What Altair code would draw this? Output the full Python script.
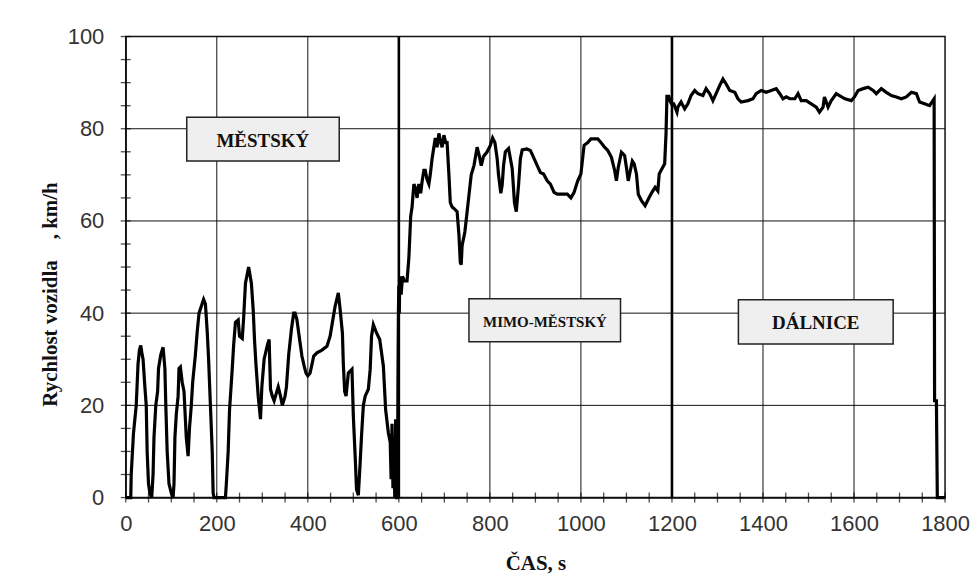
import altair as alt
import pandas as pd

# ---- speed trace (time in s, speed in km/h) ----
time_s = [
    0, 11, 12, 17, 23, 27, 30, 33, 36, 38, 42, 45, 47, 50, 53, 57,
    60, 62, 66, 70, 72, 77, 82, 86, 88, 91, 95, 100, 104,
    106, 108, 111, 113, 115, 117, 120, 124, 128, 130, 133, 137, 140, 144, 147, 153,
    157, 161, 166, 171, 175, 179, 182, 186, 190, 192, 194, 219,
    221, 225, 228, 234, 237, 241, 247, 250, 256, 259, 263, 270, 276, 280, 283, 286,
    291, 296, 299, 304, 311, 315, 318, 322, 326, 335, 340, 344, 350, 353, 358, 364,
    369, 372, 376, 380, 387, 392, 396, 400, 405, 413, 420, 431, 442, 449, 454, 460,
    467, 471, 476, 478, 481, 484, 489, 497, 500, 504, 507, 511, 515, 518, 522, 526,
    533, 537, 540, 544, 551, 558, 566, 571, 577, 581, 583, 585, 587, 589, 591, 593,
    595, 597,
    598, 599, 600, 601, 602, 605, 608, 612, 618, 622, 626, 629, 633, 637, 640, 644,
    648, 651, 655, 658, 662, 666, 669, 673, 680, 684, 688, 692, 695, 699, 703, 706,
    710, 713, 717, 721, 728, 732, 735, 737, 739, 745, 750, 754, 759, 765, 772, 777,
    781, 786, 794, 801, 806, 811, 816, 819, 824, 827, 830, 834, 841, 849, 854, 858,
    863, 867, 871, 881, 889, 896, 904, 911, 918, 926, 933, 941, 948, 960, 970, 978,
    985, 993, 1000, 1004, 1007, 1015, 1022, 1037, 1044, 1052, 1059, 1067, 1074, 1078,
    1082, 1089, 1096, 1100, 1104, 1107, 1113, 1117, 1122, 1126, 1133, 1141, 1148,
    1156, 1163, 1169, 1172, 1178, 1184, 1187, 1189, 1193, 1196, 1199,
    1204, 1211, 1213, 1220, 1228, 1235, 1242, 1250, 1257, 1268, 1275, 1283, 1290,
    1297, 1305, 1312, 1319, 1327, 1338, 1345, 1352, 1367, 1378, 1385, 1396, 1407,
    1418, 1429, 1437, 1444, 1451, 1459, 1470, 1477, 1484, 1495, 1506, 1517, 1524,
    1532, 1535, 1543, 1550, 1561, 1568, 1580, 1594, 1601, 1609, 1620, 1631, 1642,
    1649, 1660, 1671, 1682, 1693, 1704, 1715, 1726, 1737, 1744, 1755, 1766, 1776,
    1777, 1781, 1783, 1800,
]
speed_kmh = [
    0, 0, 5, 14, 20, 29, 32, 33, 31, 30, 24, 20, 10, 3, 1, 0,
    5, 13, 20, 23, 28, 31, 32.6, 28, 20, 10, 3, 1, 0,
    3, 13, 18, 20, 22, 28, 28.3, 25, 23, 19, 13, 9, 15, 20, 25, 31,
    36, 40, 41.5, 43, 42, 36, 30, 20, 10, 1, 0, 0,
    3, 10, 19, 28, 33, 38, 38.5, 35, 34.5, 39, 46.5, 50, 46.5, 40.7, 34, 29,
    22, 17, 24, 30, 33, 34.3, 23.5, 22, 21, 24, 22, 20, 22, 24, 31, 36.5,
    40, 40, 38.6, 35.7, 30.7, 28.5, 27, 26.4, 27, 30.7, 31.4, 32, 32.8, 35, 38, 41.5,
    44.4, 40.8, 35.7, 29, 23, 22, 27, 27.8, 17.7, 9, 1.8, 0.5, 7.6, 13.4, 20, 22,
    23.5, 27.8, 35, 37.5, 35.7, 34.3, 28.5, 19, 14, 12, 4, 16, 2, 10, 0, 17,
    0, 0,
    25, 40, 46, 40, 48, 44, 48, 47, 47, 52, 61, 63, 68, 67, 65, 68,
    66, 68.5, 71, 71, 69, 68, 70, 73.5, 78, 76, 79, 77, 76, 78.6, 77, 77,
    70, 64, 63, 62.7, 62, 57, 51, 50.5, 54.7, 57.6, 62, 65.6, 70, 72, 76, 74,
    72, 74, 75, 76.4, 78, 77, 73.5, 70, 66, 67.8, 72, 75, 75.7, 71.4, 64, 62,
    67.8, 73.5, 75.4, 75.6, 75.3, 73.8, 72, 70.5, 70.2, 68.7, 68, 66.2, 65.8, 65.8, 65.8, 65,
    66.2, 68.7, 70.2, 73.8, 76.4, 77, 77.8, 77.8, 77, 76, 75.3, 73.8, 71, 68.7,
    71.6, 74.9, 74.2, 71.6, 68.7, 70.2, 73, 72.4, 70.2, 65.8, 64.4, 63.3, 64.7,
    66.2, 67.3, 66.5, 70.2, 71.3, 72.4, 79, 87, 87, 86, 85.4,
    85.4, 83.6, 84.7, 85.8, 84.3, 85.4, 87.2, 88.3, 87.6, 87.2, 88.7, 87.6, 86.1,
    87.6, 89.4, 90.8, 89.7, 88.3, 87.9, 86.5, 85.8, 86.1, 86.5, 87.6, 88.3, 87.9,
    88.3, 88.7, 87.6, 86.5, 86.9, 86.5, 86.5, 87.6, 86.1, 86.1, 85.4, 84.7, 83.6,
    84.7, 86.9, 84.7, 86.1, 87.6, 87.2, 86.5, 86.1, 86.9, 88.3, 88.7, 89, 88.3,
    87.6, 88.7, 87.9, 87.2, 86.9, 86.5, 86.9, 87.9, 87.6, 85.8, 85.4, 85, 86.5,
    21, 21, 0, 0,
]

# ---- phase labels ----
phase_labels = ["MĚSTSKÝ", "MIMO-MĚSTSKÝ", "DÁLNICE"]
label_t = [301, 921, 1516]
label_v = [77.6, 38.4, 38.0]
label_size = [19, 15, 19]
box_t1 = [134, 754, 1346]
box_t2 = [469, 1087, 1686]
box_v1 = [73.0, 33.8, 33.3]
box_v2 = [82.5, 43.1, 42.9]

separators = [600, 1200]
x_ticks = list(range(0, 1801, 50))
y_ticks = list(range(0, 101, 5))
x_grid = [200, 400, 800, 1000, 1400, 1600]
y_grid = [20, 40, 60, 80]

NB = "\u00a0"
y_title = "Rychlost vozidla" + NB * 4 + "," + NB + "km/h"

trace = pd.DataFrame({"t": time_s, "v": speed_kmh})
boxes = pd.DataFrame({
    "label": phase_labels, "tx": label_t, "ty": label_v, "size": label_size,
    "t1": box_t1, "t2": box_t2, "v1": box_v1, "v2": box_v2,
})
seps = pd.DataFrame({"t": separators})
xg = pd.DataFrame({"t": x_grid})
yg = pd.DataFrame({"v": y_grid})
xt = pd.DataFrame({"t": x_ticks})
yt = pd.DataFrame({"v": y_ticks})

xscale = alt.Scale(domain=[0, 1800], nice=False, zero=False)
yscale = alt.Scale(domain=[0, 100], nice=False)

xaxis = alt.Axis(
    title="ČAS, s", values=x_ticks, grid=False, ticks=False,
    labelExpr="datum.value % 200 === 0 ? '' + datum.value : ''",
    labelFlush=False, labelOverlap=False, labelAngle=0,
    labelPadding=16, titlePadding=18,
)
yaxis = alt.Axis(
    title=y_title, values=y_ticks, grid=False, ticks=False,
    labelExpr="datum.value % 20 === 0 ? '' + datum.value : ''",
    labelFlush=False, labelOverlap=False,
    labelPadding=22, titlePadding=7,
    titleY=258,
)

vgrid = alt.Chart(xg).mark_rule(color="#111", strokeWidth=1).encode(
    x=alt.X("t:Q", scale=xscale, axis=xaxis),
)
hgrid = alt.Chart(yg).mark_rule(color="#111", strokeWidth=1).encode(
    y=alt.Y("v:Q", scale=yscale, axis=yaxis),
)

# small tick marks crossing the axes, every 50 s and every 5 km/h
xtick_marks = alt.Chart(xt).mark_tick(
    orient="vertical", color="#000", size=10, thickness=1.3
).encode(
    x=alt.X("t:Q", scale=xscale, axis=xaxis),
    y=alt.datum(0, scale=yscale),
)
ytick_marks = alt.Chart(yt).mark_tick(
    orient="horizontal", color="#000", size=10, thickness=1.3
).encode(
    y=alt.Y("v:Q", scale=yscale, axis=yaxis),
    x=alt.datum(0, scale=xscale),
)

line = alt.Chart(trace).mark_line(color="#000", strokeWidth=3.2).encode(
    x=alt.X("t:Q", scale=xscale, axis=xaxis),
    y=alt.Y("v:Q", scale=yscale, axis=yaxis),
)

rules = alt.Chart(seps).mark_rule(color="#000", strokeWidth=2.6).encode(
    x=alt.X("t:Q", scale=xscale, axis=xaxis),
)

rects = alt.Chart(boxes).mark_rect(fill="#efefef", stroke="#222", strokeWidth=1.5).encode(
    x=alt.X("t1:Q", scale=xscale, axis=xaxis), x2="t2:Q",
    y=alt.Y("v1:Q", scale=yscale, axis=yaxis), y2="v2:Q",
)

texts = alt.Chart(boxes).mark_text(
    font="Liberation Serif", fontWeight="bold", color="#111", baseline="middle", dy=1
).encode(
    x=alt.X("tx:Q", scale=xscale, axis=xaxis),
    y=alt.Y("ty:Q", scale=yscale, axis=yaxis),
    text="label:N",
    size=alt.Size("size:Q", scale=None, legend=None),
)

chart = alt.layer(vgrid, hgrid, rules, line, rects, texts, xtick_marks, ytick_marks).properties(
    width=821, height=462,
    autosize=alt.AutoSizeParams(type="none"),
    padding={"left": 118, "top": 28, "right": 25, "bottom": 76},
    background="white",
).configure_view(
    stroke="#111", strokeWidth=1.5
).configure_axis(
    labelFont="Liberation Sans", labelFontSize=22, labelColor="#333",
    titleFont="Liberation Serif", titleFontWeight="bold", titleFontSize=21, titleColor="#111",
    domainColor="#111", domainWidth=1.2,
)

chart.save("out.html", embed_options={"renderer": "svg", "actions": False})
